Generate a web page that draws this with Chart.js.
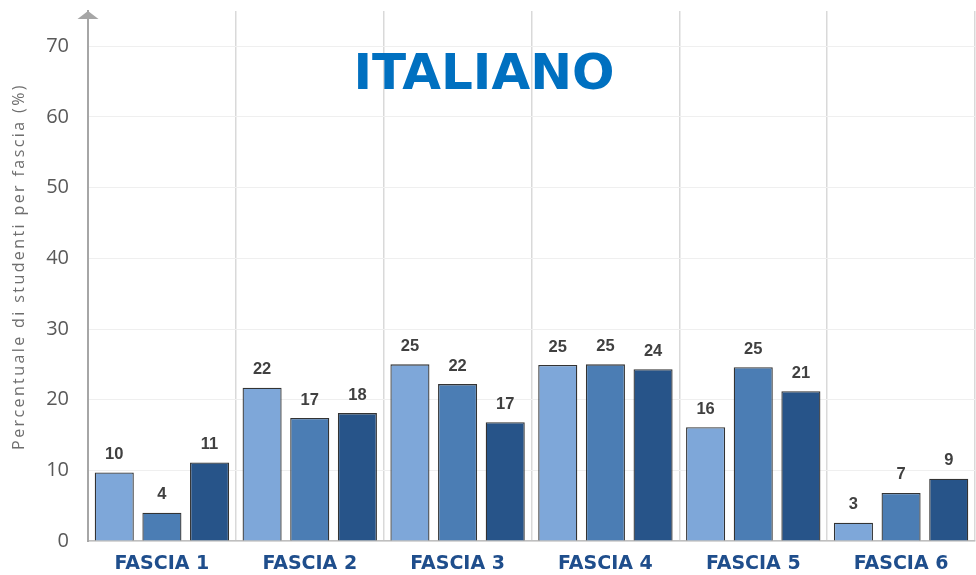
<!DOCTYPE html>
<html>
<head>
<meta charset="utf-8">
<script src="https://cdn.jsdelivr.net/npm/chart.js@4/dist/chart.umd.min.js"></script>
<style>
  html, body { margin: 0; padding: 0; background: #ffffff; }
  #wrap { width: 976px; height: 575px; }
</style>
</head>
<body>
<div id="wrap"><canvas id="c" width="976" height="575"></canvas></div>
<script>
const categories = ['FASCIA 1', 'FASCIA 2', 'FASCIA 3', 'FASCIA 4', 'FASCIA 5', 'FASCIA 6'];
const serie1 = [9.7, 21.7, 25.0, 24.9, 16.1, 2.6];
const serie2 = [4.0, 17.4, 22.2, 25.0, 24.6, 6.8];
const serie3 = [11.1, 18.1, 16.8, 24.3, 21.2, 8.8];
const yTickValues = [0, 10, 20, 30, 40, 50, 60, 70];
const chartTitle = 'ITALIANO';
const yAxisTitle = 'Percentuale di studenti per fascia (%)';

const colors = ['#7ea7d9', '#4b7db4', '#275489'];

const overlayPlugin = {
  id: 'overlay',
  afterDatasetsDraw(chart) {
    const ctx = chart.ctx;
    const area = chart.chartArea;
    ctx.save();
    // data labels
    ctx.font = 'bold 16.5px "Liberation Sans", Arial, sans-serif';
    ctx.fillStyle = '#404040';
    ctx.textAlign = 'center';
    ctx.textBaseline = 'middle';
    chart.data.datasets.forEach((ds, i) => {
      const meta = chart.getDatasetMeta(i);
      meta.data.forEach((el, j) => {
        ctx.fillText(String(Math.round(ds.data[j])), el.x, el.y - 18);
      });
    });
    // title
    ctx.font = 'bold 50px "DejaVu Sans", Verdana, sans-serif';
    ctx.fillStyle = '#0070c0';
    ctx.textAlign = 'center';
    ctx.textBaseline = 'alphabetic';
    ctx.fillText(chartTitle, 484, 89);
    // axis arrow
    const ax = chart.scales.y.right;
    ctx.fillStyle = '#a6a6a6';
    ctx.beginPath();
    ctx.moveTo(ax, area.top);
    ctx.lineTo(ax - 10.5, area.top + 8);
    ctx.lineTo(ax + 10.5, area.top + 8);
    ctx.closePath();
    ctx.fill();
    // y axis title
    ctx.translate(23.5, 266.5);
    ctx.rotate(-Math.PI / 2);
    ctx.font = '16px "Open Sans", sans-serif';
    try { ctx.letterSpacing = '2.4px'; } catch (e) {}
    ctx.fillStyle = '#6e6e6e';
    ctx.textAlign = 'center';
    ctx.textBaseline = 'alphabetic';
    ctx.fillText(yAxisTitle, 0, 0);
    ctx.restore();
  }
};

new Chart(document.getElementById('c'), {
  type: 'bar',
  data: {
    labels: categories,
    datasets: [serie1, serie2, serie3].map((d, i) => ({
      data: d,
      backgroundColor: colors[i],
      borderColor: '#333333',
      borderWidth: 1.3,
      categoryPercentage: 0.967,
      barPercentage: 0.82
    }))
  },
  options: {
    responsive: false,
    devicePixelRatio: 1,
    animation: false,
    layout: { padding: { top: 11, right: 1, left: 0, bottom: 0 } },
    plugins: { legend: { display: false }, tooltip: { enabled: false } },
    scales: {
      x: {
        grid: { offset: true, color: '#d9d9d9', lineWidth: 1.5, drawTicks: false },
        border: { color: '#bfbfbf', width: 1.5 },
        ticks: {
          font: { family: '"DejaVu Sans", Verdana, sans-serif', size: 19, weight: 'bold' },
          color: '#1f4e8c',
          padding: 12
        },
        afterFit(scale) { scale.height = 34; scale.paddingLeft = 0; scale.paddingRight = 0; }
      },
      y: {
        min: 0,
        max: 75,
        afterBuildTicks(scale) { scale.ticks = yTickValues.map(v => ({ value: v })); },
        grid: { color: '#efefef', lineWidth: 1, drawTicks: false },
        border: { color: '#a6a6a6', width: 2 },
        ticks: {
          font: { family: '"Open Sans", sans-serif', size: 20 },
          color: '#595959',
          padding: 19
        },
        afterFit(scale) { scale.width = 88; scale.paddingTop = 0; scale.paddingBottom = 0; }
      }
    }
  },
  plugins: [overlayPlugin]
});
</script>
</body>
</html>
